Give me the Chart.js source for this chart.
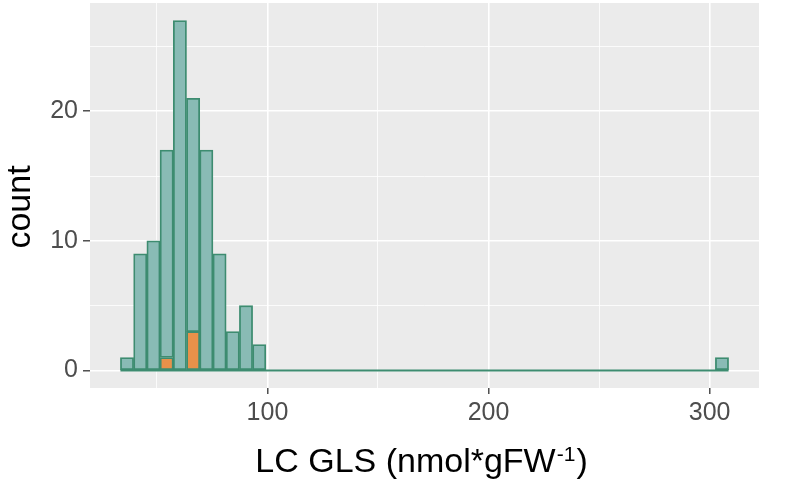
<!DOCTYPE html>
<html><head><meta charset="utf-8">
<script src="https://cdn.jsdelivr.net/npm/chart.js@4/dist/chart.umd.min.js"></script>
<style>html,body{margin:0;padding:0;background:#fff}#wrap{width:789px;height:481px;position:relative}canvas{display:block}</style>
</head><body><div id="wrap"><canvas id="c" width="789" height="481"></canvas></div>
<script>
// histogram bins (midpoints) and counts
const binMid = [36.49, 42.47, 48.45, 54.43, 60.41, 66.39, 72.37, 78.35, 84.33, 90.31, 96.29, 305.61];
const countTeal = [1, 9, 10, 16, 27, 18, 17, 9, 3, 5, 2, 1];
const orangeMid = [54.43, 66.39];
const countOrange = [1, 3];
const firstEdge = 33.5;
const lastEdge = 308.6;
const yTicks = [0, 5, 10, 15, 20, 25];
const yLabels = [0, 10, 20];
const xTicks = [50, 100, 150, 200, 250, 300];
const xLabels = [100, 200, 300];
const xTitleMain = 'LC GLS (nmol*gFW';
const xTitleSup = '-1';
const xTitleEnd = ')';
const yTitle = 'count';

const FONT = '"Liberation Sans", Arial, sans-serif';
Chart.defaults.font.family = FONT;

const xSpan = lastEdge - firstEdge;
const xMin = firstEdge - 0.05 * xSpan, xMax = lastEdge + 0.05 * xSpan;
const yTop = 27;
const yMin = -0.05 * yTop, yMax = yTop * 1.05;

const teal = '#89bbb5', border = '#3d8c70', orange = '#e8914a';

const panelBg = {
  id: 'panelBg',
  beforeDraw(chart) {
    const {ctx, chartArea: a} = chart;
    ctx.save(); ctx.fillStyle = '#ebebeb';
    ctx.fillRect(a.left, a.top, a.right - a.left, a.bottom - a.top);
    ctx.restore();
  },
  afterDraw(chart) {
    const {ctx, chartArea: a} = chart;
    ctx.save();
    ctx.fillStyle = '#000';
    ctx.textBaseline = 'alphabetic';
    const big = '34px ' + FONT, small = '21px ' + FONT;
    ctx.font = big; const w1 = ctx.measureText(xTitleMain).width; const w3 = ctx.measureText(xTitleEnd).width;
    ctx.font = small; const w2 = ctx.measureText(xTitleSup).width;
    let x = (a.left + a.right) / 2 - (w1 + w2 + w3) / 2 - 4;
    const y = 472;
    ctx.font = big; ctx.fillText(xTitleMain, x, y); x += w1;
    ctx.font = small; ctx.fillText(xTitleSup, x + 1, y - 11); x += w2 + 2;
    ctx.font = big; ctx.fillText(xTitleEnd, x, y);
    // y axis title
    ctx.translate(30, 207);
    ctx.rotate(-Math.PI / 2);
    ctx.textAlign = 'center';
    ctx.font = big;
    ctx.fillText(yTitle, 0, 0);
    ctx.restore();
  }
};

new Chart(document.getElementById('c'), {
  type: 'bar',
  data: {
    datasets: [
      {
        label: 'orange',
        data: orangeMid.map((m, i) => ({x: m, y: countOrange[i]})),
        backgroundColor: orange, borderColor: border, borderWidth: 1.8, borderSkipped: false,
        barPercentage: 1, categoryPercentage: 1, order: 1
      },
      {
        label: 'teal',
        data: binMid.map((m, i) => ({x: m, y: countTeal[i]})),
        backgroundColor: teal, borderColor: border, borderWidth: 1.8, borderSkipped: false,
        barPercentage: 1, categoryPercentage: 1, order: 1
      },
      {
        type: 'line',
        label: 'base',
        data: [{x: firstEdge, y: 0}, {x: lastEdge, y: 0}],
        borderColor: border, borderWidth: 1.8, pointRadius: 0, order: 10
      }
    ]
  },
  options: {
    responsive: false, animation: false, devicePixelRatio: 1,
    layout: {padding: {left: 0, right: 30, top: 3, bottom: 0}},
    plugins: {legend: {display: false}, tooltip: {enabled: false}},
    scales: {
      x: {
        type: 'linear', stacked: true, min: xMin, max: xMax, offset: false,
        afterBuildTicks: s => { s.ticks = xTicks.map(v => ({value: v})); },
        afterFit: s => { s.height = 93; s.paddingLeft = 0; s.paddingRight = 0; },
        border: {display: false},
        grid: {
          offset: false,
          color: '#ffffff',
          lineWidth: c => xLabels.includes(c.tick && c.tick.value) ? 1.6 : 0.8,
          tickColor: c => xLabels.includes(c.tick && c.tick.value) ? '#333333' : 'rgba(0,0,0,0)',
          tickLength: 6, tickWidth: 1.3, drawTicks: true
        },
        ticks: {
          autoSkip: false, maxRotation: 0, color: '#4d4d4d', font: {size: 25}, padding: 4,
          callback: v => xLabels.includes(v) ? String(v) : ''
        }
      },
      y: {
        stacked: true, min: yMin, max: yMax,
        afterBuildTicks: s => { s.ticks = yTicks.map(v => ({value: v})); },
        afterFit: s => { s.width = 90; s.paddingTop = 0; s.paddingBottom = 0; },
        border: {display: false},
        grid: {
          color: '#ffffff',
          lineWidth: c => yLabels.includes(c.tick && c.tick.value) ? 1.6 : 0.8,
          tickColor: c => yLabels.includes(c.tick && c.tick.value) ? '#333333' : 'rgba(0,0,0,0)',
          tickLength: 7, tickWidth: 1.3, drawTicks: true
        },
        ticks: {
          color: '#4d4d4d', font: {size: 25}, padding: 5,
          callback: v => yLabels.includes(v) ? String(v) : ''
        }
      }
    }
  },
  plugins: [panelBg]
});
</script></body></html>
